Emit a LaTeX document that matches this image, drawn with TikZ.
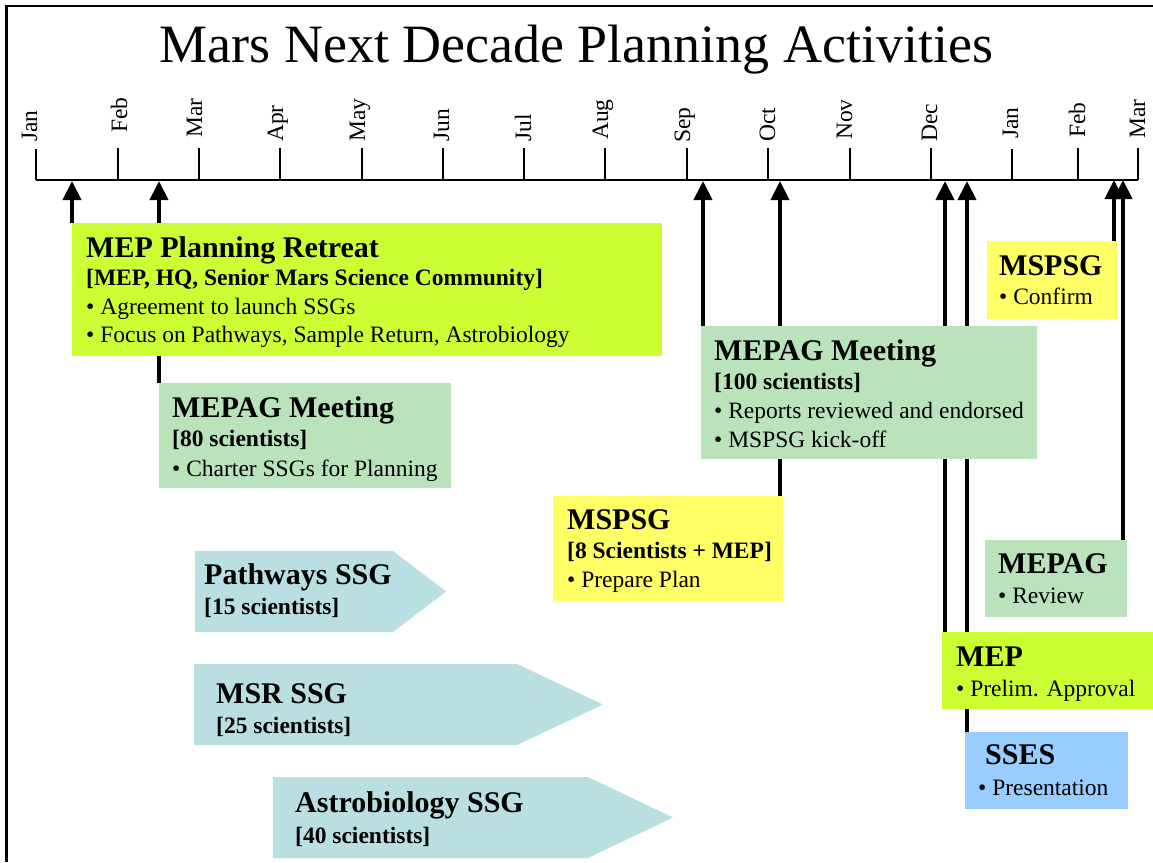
\documentclass[tikz,border=0pt]{standalone}
\usepackage{fontspec}
\setmainfont{Liberation Serif}
\usetikzlibrary{arrows.meta}
\definecolor{meplime}{HTML}{CCFF33}
\definecolor{agreen}{HTML}{BAE2BB}
\definecolor{sgyellow}{HTML}{FFFF66}
\definecolor{sesblue}{HTML}{99CCFF}
\definecolor{ssgcyan}{HTML}{BADFE2}
\pgfdeclarelayer{back}
\pgfsetlayers{back,main}
% heading line inside a box
\newcommand\ttl{\fontsize{30}{30}\selectfont\bfseries}
% one line of a stacked text block
\newcommand\tline[1]{\hbox{#1}}
% stacked lines; the block's baseline is the first line's baseline
\newcommand\lines[2][29pt]{\vtop{\baselineskip=#1\relax#2}}

\begin{document}
\begin{tikzpicture}[x=1pt,y=-1pt,
  card/.style={rectangle, draw=none, inner sep=0pt, anchor=north west},
  txt/.style={anchor=base west, inner sep=0pt, font=\fontsize{23.5}{29}\selectfont},
  month/.style={rotate=90, anchor=base west, inner sep=0pt, font=\fontsize{23.5}{28}\selectfont},
  riser/.style={line width=4pt, -{Triangle[length=19pt,width=18pt]}},
  tick/.style={line width=1.2pt},
  yeartick/.style={line width=2.6pt},
  ssg/.style={fill=ssgcyan}]

\useasboundingbox (0,0) rectangle (1153,862);

% outer frame
\draw[line width=2.5pt] (6.5,862) -- (6.5,6) -- (1153,6);

% title
\node[anchor=base, inner sep=0pt, font=\fontsize{54}{60}\selectfont] (title) at (576.5,62)
  {Mars Next Decade Planning Activities};

% time axis
\draw[line width=1.3pt] (36,180) -- (1138,180);
\draw[yeartick] (36,180) -- (36,149);
\draw[yeartick] (1012,180) -- (1012,149);
\foreach \x in {118,199,280,362,443,524,605,687,768,850,931,1078,1138}
  \draw[tick] (\x,180) -- (\x,148);

% month names
\node[month] (m1)  at (37,142)   {Jan};
\node[month] (m2)  at (127,133)  {Feb};
\node[month] (m3)  at (202,138)  {Mar};
\node[month] (m4)  at (283,142)  {Apr};
\node[month] (m5)  at (365,142)  {May};
\node[month] (m6)  at (449,142)  {Jun};
\node[month] (m7)  at (531,142)  {Jul};
\node[month] (m8)  at (608,140)  {Aug};
\node[month] (m9)  at (690,143)  {Sep};
\node[month] (m10) at (775,142)  {Oct};
\node[month] (m11) at (852,140)  {Nov};
\node[month] (m12) at (937,142)  {Dec};
\node[month] (m13) at (1018,139) {Jan};
\node[month] (m14) at (1085,138) {Feb};
\node[month] (m15) at (1145,139) {Mar};

% arrow tips on the axis
\coordinate (t1) at (72,181);
\coordinate (t2) at (159,181);
\coordinate (t3) at (703,181);
\coordinate (t4) at (780,181);
\coordinate (t5) at (945,181);
\coordinate (t6) at (967,181);
\coordinate (t7) at (1114,180);
\coordinate (t8) at (1123,180);

% activity boxes
\node[card, fill=meplime,  minimum width=590pt, minimum height=133pt] (retreat)  at (72,223)  {};
\node[card, fill=agreen,   minimum width=292pt, minimum height=105pt] (mepag80)  at (159,383) {};
\node[card, fill=agreen,   minimum width=336pt, minimum height=133pt] (mepag100) at (701,326) {};
\node[card, fill=sgyellow, minimum width=230pt, minimum height=105pt] (mspsg)    at (553,496) {};
\node[card, fill=sgyellow, minimum width=130pt, minimum height=78pt]  (confirm)  at (987,241) {};
\node[card, fill=agreen,   minimum width=142pt, minimum height=77pt]  (review)   at (985,540) {};
\node[card, fill=meplime,  minimum width=211pt, minimum height=77pt]  (mep)      at (942,632) {};
\node[card, fill=sesblue,  minimum width=163pt, minimum height=77pt]  (sses)     at (965,732) {};

% connectors from each box up to the time axis
\begin{pgfonlayer}{back}
\draw[riser] (retreat.north -| t1)  -- (t1);
\draw[riser] (mepag80.north -| t2)  -- (t2);
\draw[riser] (mepag100.north -| t3) -- (t3);
\draw[riser] (mspsg.north -| t4)    -- (t4);
\draw[riser] (mep.north -| t5)      -- (t5);
\draw[riser] (sses.north -| t6)     -- (t6);
\draw[riser] (confirm.north -| t7)  -- (t7);
\draw[riser] (review.north -| t8)   -- (t8);
\end{pgfonlayer}

% study group arrows
\fill[ssg] (195,551) -- (393,551) -- (446,591.5) -- (393,632) -- (195,632) -- cycle;
\fill[ssg] (194,664) -- (517,664) -- (603,704.5) -- (517,745) -- (194,745) -- cycle;
\fill[ssg] (273,777) -- (588,777) -- (673,817.5) -- (588,858) -- (273,858) -- cycle;

% box texts
\node[txt] (retreat-t) at (86,257) {\lines[28.5pt]{%
  \tline{\ttl MEP Planning Retreat}%
  \tline{\bfseries [MEP, HQ, Senior Mars Science Community]}%
  \tline{• Agreement to launch SSGs}%
  \tline{• Focus on Pathways, Sample Return, Astrobiology}}};
\node[txt] (mepag80-t) at (172,417) {\lines[29.5pt]{%
  \tline{\ttl MEPAG Meeting}%
  \tline{\bfseries [80 scientists]}%
  \tline{• Charter SSGs for Planning}}};
\node[txt] (mepag100-t) at (714,360) {\lines{%
  \tline{\ttl MEPAG Meeting}%
  \tline{\bfseries [100 scientists]}%
  \tline{• Reports reviewed and endorsed}%
  \tline{• MSPSG kick-off}}};
\node[txt] (mspsg-t) at (567,529) {\lines{%
  \tline{\ttl MSPSG}%
  \tline{\bfseries [8 Scientists + MEP]}%
  \tline{• Prepare Plan}}};
\node[txt] (confirm-t) at (999,275) {\lines{%
  \tline{\ttl MSPSG}%
  \tline{• Confirm}}};
\node[txt] (review-t) at (998,573) {\lines[30pt]{%
  \tline{\ttl MEPAG}%
  \tline{• Review}}};
\node[txt] (mep-t) at (956,666) {\lines[30pt]{%
  \tline{\ttl MEP}%
  \tline{• Prelim. Approval}}};
\node[txt] (sses-t) at (978,764) {\lines[31pt]{%
  \tline{\kern7pt\ttl SSES}%
  \tline{• Presentation}}};
\node[txt] (pathways-t) at (204,584) {\lines[30pt]{%
  \tline{\ttl Pathways SSG}%
  \tline{\bfseries [15 scientists]}}};
\node[txt] (msr-t) at (216,703) {\lines[30pt]{%
  \tline{\ttl MSR SSG}%
  \tline{\bfseries [25 scientists]}}};
\node[txt] (astro-t) at (295,812) {\lines[31pt]{%
  \tline{\ttl Astrobiology SSG}%
  \tline{\bfseries [40 scientists]}}};

\end{tikzpicture}
\end{document}
